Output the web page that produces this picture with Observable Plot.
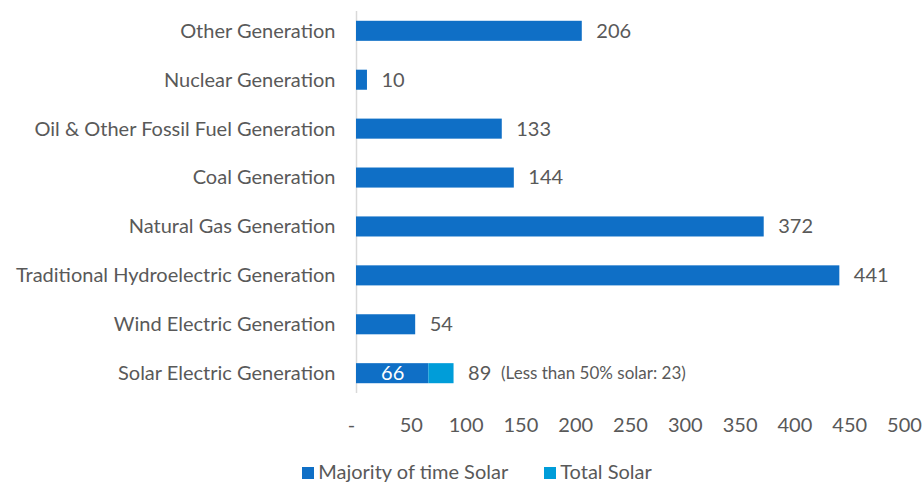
<!DOCTYPE html>
<html><head><meta charset="utf-8">
<script src="https://cdn.jsdelivr.net/npm/d3@7"></script>
<script src="https://cdn.jsdelivr.net/npm/@observablehq/plot@0.6"></script>
<style>
body{margin:0;background:#fff;font-family:Lato,sans-serif;}
#legend{display:flex;gap:36px;justify-content:center;padding-left:30px;margin-top:19px;font-size:20px;color:#595959;line-height:24px;}
#legend span.sw{display:inline-block;width:12px;height:12px;margin-right:4px;vertical-align:0px;}
</style></head>
<body><div id="chart"></div>
<div id="legend"></div>
<script>
const categories = ["Other Generation","Nuclear Generation","Oil & Other Fossil Fuel Generation","Coal Generation","Natural Gas Generation","Traditional Hydroelectric Generation","Wind Electric Generation","Solar Electric Generation"];
const majority = [206,10,133,144,372,441,54,66];
const totalSolarExtra = [0,0,0,0,0,0,0,23];
const totals = [206,10,133,144,372,441,54,89];
const ticks = [0,50,100,150,200,250,300,350,400,450,500];
const note = "(Less than 50% solar: 23)";
const seriesNames = ["Majority of time Solar","Total Solar"];
const colors = ["#0F6FC6","#009DD9"];

const rows = [];
categories.forEach((c,i)=>{
  rows.push({cat:c, series:seriesNames[0], v:majority[i]});
  if (totalSolarExtra[i]>0) rows.push({cat:c, series:seriesNames[1], v:totalSolarExtra[i]});
});
const totRows = categories.map((c,i)=>({cat:c, v:totals[i]}));
const solarIdx = categories.length-1;
const txt = "#595959";
const fmt = d => d===0 ? "-\u00a0\u00a0" : String(d);

const chart = Plot.plot({
  width:924, height:440,
  marginLeft:356, marginRight:20, marginTop:11, marginBottom:47,
  style:{fontFamily:"Lato, sans-serif", fontSize:"20px", color:txt, background:"#fff"},
  x:{domain:[0,500], ticks:ticks, tickFormat:fmt, tickSize:0, tickPadding:24},
  y:{domain:categories, paddingInner:0.59, paddingOuter:0.2, round:false, tickSize:0, tickPadding:21, label:null},
  color:{domain:seriesNames, range:colors},
  marks:[
    Plot.ruleX([0],{stroke:"#d9d9d9", strokeWidth:1.5}),
    Plot.barX(rows, Plot.stackX({x:"v", y:"cat", fill:"series", order:seriesNames})),
    Plot.text(totRows,{x:"v", y:"cat", text:d=>String(d.v), textAnchor:"start", dx:14, fill:txt, fontSize:20}),
    Plot.text([{cat:categories[solarIdx], v:majority[solarIdx]}],{x:d=>d.v/2, y:"cat", text:d=>String(d.v), fill:"white", fontSize:20}),
    Plot.text([{cat:categories[solarIdx], v:totals[solarIdx]}],{x:"v", y:"cat", text:()=>note, textAnchor:"start", dx:47, fill:txt, fontSize:17}),
    Plot.axisX({ticks:ticks, tickFormat:fmt, tickSize:0, tickPadding:24, label:null, fontSize:20}),
    Plot.axisY({tickSize:0, tickPadding:21, label:null, fontSize:20})
  ]
});
document.getElementById("chart").appendChild(chart);
const lg = document.getElementById("legend");
seriesNames.forEach((n,i)=>{
  const d=document.createElement("div");
  d.innerHTML=`<span class="sw" style="background:${colors[i]}"></span>${n}`;
  lg.appendChild(d);
});
</script></body></html>
